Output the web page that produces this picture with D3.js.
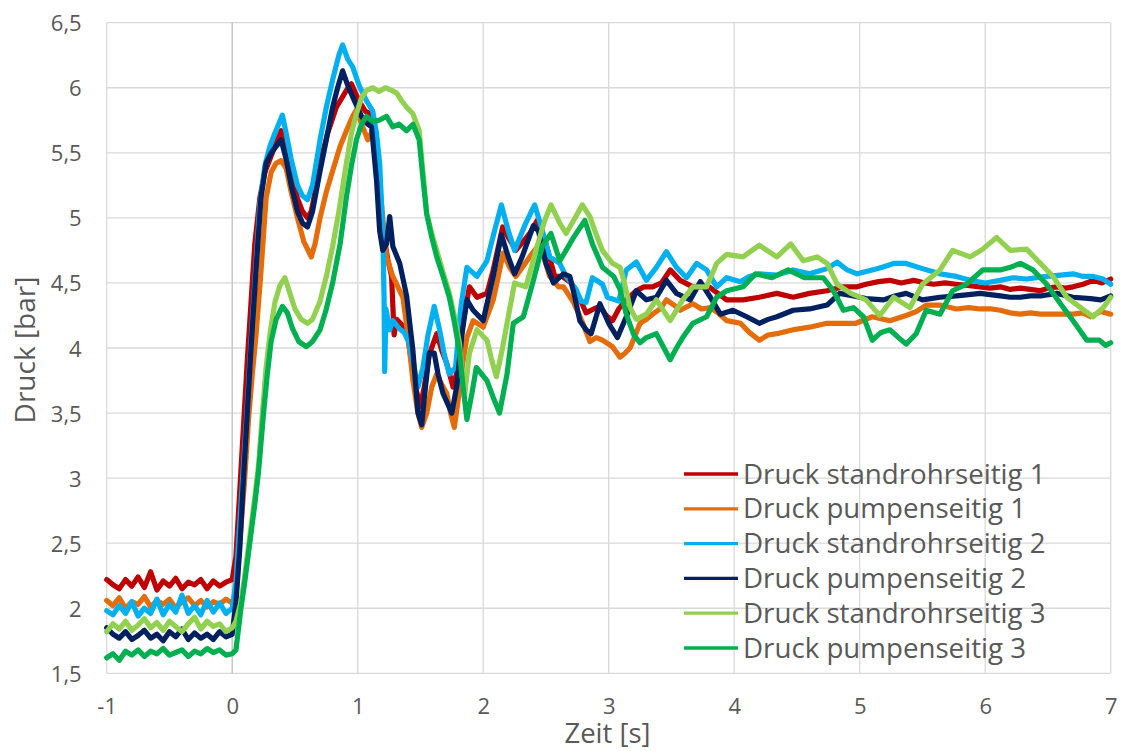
<!DOCTYPE html>
<html>
<head>
<meta charset="utf-8">
<script src="https://cdn.jsdelivr.net/npm/d3@7"></script>
<style>
  html, body { margin: 0; padding: 0; background: #ffffff; }
  svg { display: block; }
  text { font-family: "Open Sans", "Noto Sans", sans-serif; fill: #595959; }
</style>
</head>
<body>
<svg id="chart" width="1124" height="751"></svg>
<script>
// ---------------- DATA ----------------
const seriesNames = [
  "Druck standrohrseitig 1",
  "Druck pumpenseitig 1",
  "Druck standrohrseitig 2",
  "Druck pumpenseitig 2",
  "Druck standrohrseitig 3",
  "Druck pumpenseitig 3"
];
const seriesColors = ["#C00000", "#E46C0A", "#00B0F0", "#002060", "#92D050", "#00B050"];

const xTicks = [-1, 0, 1, 2, 3, 4, 5, 6, 7];
const yTicks = [1.5, 2, 2.5, 3, 3.5, 4, 4.5, 5, 5.5, 6, 6.5];

// [Zeit s, Druck bar]
const standrohr1 = [
  [-1,2.22],[-0.95,2.18],[-0.9,2.15],[-0.85,2.22],[-0.8,2.17],[-0.75,2.24],[-0.7,2.16],[-0.65,2.28],[-0.6,2.14],[-0.55,2.21],
  [-0.5,2.17],[-0.45,2.23],[-0.4,2.15],[-0.35,2.2],[-0.3,2.18],[-0.25,2.22],[-0.2,2.15],[-0.15,2.21],[-0.1,2.17],[-0.05,2.2],[0,2.22],
  [0.03,2.4],[0.06,2.9],[0.09,3.4],[0.12,3.9],[0.15,4.35],[0.18,4.8],[0.22,5.15],[0.26,5.35],[0.3,5.45],[0.34,5.55],[0.39,5.67],
  [0.43,5.55],[0.47,5.35],[0.52,5.15],[0.56,5.05],[0.6,5.0],[0.63,5.05],[0.67,5.25],[0.7,5.42],[0.76,5.65],[0.83,5.85],[0.91,5.98],
  [0.95,6.03],[1.01,5.9],[1.06,5.82],[1.1,5.8],[1.15,5.54],[1.2,4.9],[1.24,4.68],[1.27,4.55],[1.29,4.1],[1.31,4.22],[1.35,4.18],
  [1.39,4.14],[1.42,3.95],[1.46,3.7],[1.5,3.55],[1.53,3.7],[1.57,3.95],[1.63,4.11],[1.67,3.98],[1.71,3.88],[1.76,3.7],[1.8,3.85],
  [1.84,4.2],[1.89,4.47],[1.95,4.39],[2.03,4.42],[2.08,4.6],[2.155,4.93],[2.2,4.85],[2.26,4.75],[2.32,4.82],[2.37,4.88],[2.43,4.98],
  [2.5,4.8],[2.57,4.55],[2.63,4.55],[2.7,4.5],[2.76,4.4],[2.82,4.27],[2.88,4.3],[2.93,4.32],[2.98,4.25],[3.03,4.21],[3.08,4.3],
  [3.14,4.37],[3.22,4.44],[3.28,4.47],[3.35,4.47],[3.42,4.5],[3.49,4.6],[3.57,4.52],[3.67,4.47],[3.8,4.47],[3.87,4.42],[3.94,4.37],
  [4.07,4.37],[4.2,4.39],[4.34,4.42],[4.47,4.39],[4.6,4.42],[4.74,4.44],[4.87,4.47],[4.98,4.47],[5.05,4.49],[5.15,4.51],[5.24,4.52],
  [5.33,4.5],[5.43,4.52],[5.52,4.5],[5.59,4.49],[5.68,4.5],[5.77,4.49],[5.86,4.48],[5.96,4.47],[6.04,4.46],[6.12,4.47],[6.2,4.45],
  [6.28,4.46],[6.36,4.45],[6.44,4.44],[6.5,4.46],[6.57,4.47],[6.64,4.46],[6.7,4.47],[6.78,4.49],[6.86,4.52],[6.93,4.5],[7.0,4.53]
];
const pumpen1 = [
  [-1,2.06],[-0.95,2.02],[-0.9,2.08],[-0.85,2.0],[-0.8,2.05],[-0.75,2.03],[-0.7,2.09],[-0.65,2.01],[-0.6,2.06],[-0.55,2.03],
  [-0.5,2.07],[-0.45,2.0],[-0.4,2.05],[-0.35,2.08],[-0.3,2.02],[-0.25,2.06],[-0.2,2.01],[-0.15,2.05],[-0.1,2.03],[-0.05,2.07],[0,2.04],
  [0.03,2.1],[0.06,2.5],[0.1,3.0],[0.13,3.45],[0.16,3.8],[0.19,4.1],[0.23,4.6],[0.27,5.15],[0.31,5.35],[0.35,5.42],[0.39,5.44],
  [0.43,5.38],[0.47,5.2],[0.52,5.0],[0.57,4.82],[0.63,4.7],[0.66,4.8],[0.7,5.0],[0.75,5.2],[0.8,5.36],[0.86,5.55],[0.91,5.67],
  [0.96,5.78],[0.99,5.83],[1.04,5.7],[1.08,5.6],[1.12,5.67],[1.15,5.5],[1.18,5.2],[1.23,4.7],[1.28,4.55],[1.36,4.39],[1.4,4.1],
  [1.44,3.75],[1.48,3.5],[1.51,3.39],[1.55,3.5],[1.59,3.7],[1.63,3.8],[1.67,3.72],[1.71,3.65],[1.74,3.5],[1.77,3.39],[1.8,3.6],
  [1.84,3.9],[1.87,4.08],[1.92,4.21],[2.0,4.16],[2.08,4.37],[2.16,4.73],[2.21,4.62],[2.26,4.55],[2.32,4.63],[2.37,4.7],[2.45,4.8],
  [2.53,4.55],[2.6,4.47],[2.64,4.47],[2.72,4.35],[2.79,4.2],[2.85,4.05],[2.9,4.08],[2.95,4.06],[3.03,4.01],[3.09,3.93],[3.13,3.96],
  [3.17,4.0],[3.25,4.19],[3.3,4.22],[3.35,4.26],[3.41,4.3],[3.46,4.37],[3.52,4.33],[3.57,4.29],[3.67,4.34],[3.74,4.3],[3.81,4.31],
  [3.87,4.27],[3.94,4.21],[4.05,4.19],[4.12,4.12],[4.2,4.06],[4.27,4.1],[4.34,4.11],[4.47,4.14],[4.6,4.16],[4.74,4.19],[4.84,4.19],
  [4.97,4.19],[5.1,4.24],[5.24,4.21],[5.37,4.25],[5.45,4.28],[5.53,4.33],[5.64,4.33],[5.77,4.3],[5.87,4.31],[5.96,4.3],[6.05,4.3],
  [6.12,4.29],[6.2,4.27],[6.28,4.26],[6.36,4.27],[6.44,4.26],[6.57,4.26],[6.7,4.26],[6.78,4.27],[6.84,4.24],[6.92,4.28],[7.0,4.26]
];
const standrohr2 = [
  [-1,1.98],[-0.95,1.95],[-0.9,2.02],[-0.85,1.96],[-0.8,2.05],[-0.75,1.94],[-0.7,2.0],[-0.65,1.96],[-0.6,2.07],[-0.55,1.95],
  [-0.5,2.03],[-0.45,1.97],[-0.4,2.1],[-0.35,1.96],[-0.3,2.02],[-0.25,1.95],[-0.2,2.06],[-0.15,1.97],[-0.1,2.04],[-0.05,1.96],[0,2.0],
  [0.03,2.2],[0.06,2.65],[0.09,3.1],[0.12,3.55],[0.15,4.05],[0.18,4.5],[0.22,5.1],[0.26,5.4],[0.3,5.55],[0.34,5.65],[0.37,5.72],
  [0.4,5.79],[0.43,5.65],[0.47,5.45],[0.52,5.25],[0.56,5.17],[0.6,5.14],[0.64,5.25],[0.7,5.6],[0.75,5.85],[0.8,6.06],[0.85,6.25],
  [0.88,6.33],[0.92,6.22],[0.96,6.16],[1.01,6.02],[1.07,5.9],[1.12,5.82],[1.15,5.65],[1.175,5.42],[1.2,4.9],[1.21,4.4],[1.215,3.82],
  [1.225,4.3],[1.255,4.14],[1.28,4.21],[1.33,4.15],[1.37,4.12],[1.41,4.04],[1.45,3.85],[1.48,3.7],[1.52,3.85],[1.56,4.1],[1.61,4.32],
  [1.65,4.15],[1.69,3.95],[1.73,3.8],[1.78,3.85],[1.82,4.3],[1.87,4.62],[1.95,4.55],[2.03,4.67],[2.09,4.9],[2.145,5.1],[2.2,4.9],
  [2.25,4.75],[2.33,4.94],[2.41,5.1],[2.46,4.94],[2.53,4.7],[2.61,4.65],[2.66,4.55],[2.74,4.45],[2.78,4.36],[2.82,4.35],[2.87,4.54],
  [2.95,4.49],[2.99,4.39],[3.08,4.36],[3.14,4.6],[3.22,4.66],[3.3,4.52],[3.38,4.62],[3.46,4.74],[3.54,4.62],[3.62,4.54],[3.7,4.65],
  [3.78,4.6],[3.86,4.47],[3.94,4.54],[4.05,4.51],[4.12,4.55],[4.2,4.57],[4.34,4.56],[4.47,4.6],[4.6,4.57],[4.74,4.61],[4.82,4.66],
  [4.9,4.6],[4.98,4.57],[5.1,4.6],[5.18,4.62],[5.27,4.65],[5.37,4.65],[5.5,4.61],[5.64,4.57],[5.77,4.55],[5.88,4.52],[6.0,4.5],
  [6.12,4.52],[6.22,4.54],[6.33,4.53],[6.49,4.55],[6.6,4.56],[6.7,4.57],[6.78,4.55],[6.86,4.55],[6.94,4.53],[7.0,4.49]
];
const pumpen2 = [
  [-1,1.85],[-0.95,1.8],[-0.9,1.77],[-0.85,1.82],[-0.8,1.76],[-0.75,1.79],[-0.7,1.83],[-0.65,1.77],[-0.6,1.8],[-0.55,1.75],
  [-0.5,1.82],[-0.45,1.78],[-0.4,1.84],[-0.35,1.76],[-0.3,1.81],[-0.25,1.77],[-0.2,1.8],[-0.15,1.76],[-0.1,1.82],[-0.05,1.78],[0,1.8],
  [0.03,2.05],[0.06,2.45],[0.09,3.0],[0.12,3.5],[0.15,4.0],[0.19,4.6],[0.23,5.16],[0.27,5.42],[0.31,5.5],[0.35,5.55],[0.39,5.6],
  [0.43,5.45],[0.47,5.25],[0.52,5.05],[0.56,4.96],[0.6,4.93],[0.64,5.05],[0.7,5.36],[0.75,5.6],[0.8,5.85],[0.84,6.0],[0.88,6.13],
  [0.92,6.02],[0.96,5.93],[1.03,5.78],[1.08,5.72],[1.11,5.7],[1.15,5.29],[1.175,4.9],[1.2,4.75],[1.23,4.8],[1.255,5.01],[1.28,4.78],
  [1.335,4.65],[1.39,4.4],[1.44,3.98],[1.48,3.5],[1.51,3.41],[1.54,3.7],[1.57,3.96],[1.61,3.96],[1.64,3.8],[1.68,3.65],[1.75,3.5],
  [1.79,3.71],[1.83,4.1],[1.87,4.37],[1.92,4.29],[2.0,4.21],[2.08,4.55],[2.145,4.87],[2.2,4.7],[2.25,4.57],[2.31,4.7],[2.4,4.94],
  [2.44,4.9],[2.5,4.65],[2.56,4.5],[2.64,4.57],[2.69,4.55],[2.73,4.39],[2.77,4.21],[2.82,4.14],[2.86,4.11],[2.93,4.34],[3.0,4.19],
  [3.07,4.08],[3.14,4.24],[3.22,4.44],[3.3,4.37],[3.38,4.39],[3.46,4.52],[3.54,4.42],[3.65,4.37],[3.73,4.51],[3.81,4.39],[3.89,4.26],
  [3.99,4.29],[4.1,4.24],[4.2,4.19],[4.27,4.22],[4.34,4.24],[4.47,4.29],[4.6,4.3],[4.74,4.33],[4.84,4.42],[4.95,4.4],[5.05,4.38],
  [5.19,4.37],[5.28,4.4],[5.37,4.42],[5.5,4.37],[5.64,4.39],[5.77,4.4],[5.87,4.41],[5.96,4.42],[6.04,4.41],[6.12,4.4],[6.2,4.39],
  [6.28,4.39],[6.36,4.4],[6.44,4.4],[6.57,4.42],[6.7,4.39],[6.84,4.38],[6.92,4.37],[7.0,4.4]
];
const standrohr3 = [
  [-1,1.82],[-0.95,1.88],[-0.9,1.84],[-0.85,1.9],[-0.8,1.83],[-0.75,1.87],[-0.7,1.92],[-0.65,1.85],[-0.6,1.89],[-0.55,1.83],
  [-0.5,1.9],[-0.45,1.86],[-0.4,1.82],[-0.35,1.88],[-0.3,1.93],[-0.25,1.84],[-0.2,1.9],[-0.15,1.86],[-0.1,1.88],[-0.05,1.82],[0,1.85],
  [0.03,1.9],[0.07,2.05],[0.1,2.25],[0.14,2.55],[0.18,2.85],[0.21,3.1],[0.245,3.55],[0.27,3.85],[0.3,4.1],[0.34,4.35],[0.38,4.48],
  [0.42,4.54],[0.45,4.45],[0.5,4.3],[0.55,4.22],[0.6,4.19],[0.64,4.22],[0.7,4.36],[0.75,4.55],[0.8,4.78],[0.85,5.05],[0.91,5.42],
  [0.95,5.65],[0.99,5.8],[1.03,5.92],[1.07,5.98],[1.12,6.0],[1.17,5.97],[1.22,6.0],[1.27,5.98],[1.31,5.96],[1.35,5.9],[1.39,5.85],
  [1.44,5.8],[1.49,5.67],[1.52,5.35],[1.55,5.03],[1.59,4.88],[1.63,4.75],[1.68,4.58],[1.73,4.42],[1.77,4.25],[1.81,4.04],[1.85,3.62],
  [1.89,3.96],[1.95,4.14],[2.03,4.06],[2.07,3.9],[2.105,3.78],[2.15,3.98],[2.19,4.19],[2.25,4.5],[2.34,4.47],[2.42,4.75],[2.49,4.98],
  [2.54,5.1],[2.61,4.96],[2.66,4.88],[2.72,4.98],[2.79,5.1],[2.85,5.01],[2.89,4.9],[2.95,4.75],[3.03,4.65],[3.09,4.62],[3.12,4.52],
  [3.17,4.31],[3.22,4.22],[3.3,4.26],[3.38,4.37],[3.49,4.21],[3.59,4.37],[3.67,4.47],[3.78,4.47],[3.86,4.65],[3.94,4.72],[4.07,4.7],
  [4.2,4.79],[4.34,4.7],[4.45,4.8],[4.55,4.67],[4.66,4.7],[4.74,4.65],[4.82,4.49],[4.93,4.42],[5.05,4.37],[5.16,4.25],[5.27,4.39],
  [5.4,4.31],[5.5,4.49],[5.64,4.6],[5.74,4.75],[5.88,4.7],[5.98,4.76],[6.09,4.85],[6.2,4.75],[6.33,4.76],[6.44,4.65],[6.54,4.55],
  [6.65,4.39],[6.76,4.31],[6.86,4.24],[6.94,4.31],[7.0,4.39]
];
const pumpen3 = [
  [-1,1.62],[-0.95,1.65],[-0.9,1.6],[-0.85,1.67],[-0.8,1.64],[-0.75,1.68],[-0.7,1.63],[-0.65,1.67],[-0.6,1.65],[-0.55,1.69],
  [-0.5,1.64],[-0.45,1.66],[-0.4,1.68],[-0.35,1.63],[-0.3,1.67],[-0.25,1.65],[-0.2,1.69],[-0.15,1.66],[-0.1,1.68],[-0.05,1.64],[0,1.65],
  [0.03,1.68],[0.07,2.0],[0.1,2.2],[0.14,2.5],[0.18,2.8],[0.21,3.05],[0.25,3.5],[0.28,3.8],[0.31,4.05],[0.35,4.22],[0.4,4.32],
  [0.44,4.27],[0.48,4.15],[0.53,4.05],[0.59,4.01],[0.64,4.05],[0.7,4.14],[0.75,4.3],[0.8,4.5],[0.86,4.8],[0.91,5.16],[0.95,5.4],
  [0.99,5.6],[1.03,5.72],[1.07,5.78],[1.12,5.74],[1.17,5.75],[1.23,5.78],[1.28,5.7],[1.33,5.72],[1.39,5.67],[1.44,5.72],[1.49,5.6],
  [1.52,5.3],[1.55,5.03],[1.59,4.85],[1.63,4.7],[1.68,4.55],[1.73,4.39],[1.77,4.2],[1.81,3.98],[1.84,3.7],[1.87,3.45],[1.91,3.65],
  [1.945,3.85],[2.03,3.75],[2.08,3.62],[2.13,3.5],[2.16,3.65],[2.19,3.8],[2.24,4.19],[2.32,4.24],[2.4,4.52],[2.47,4.78],[2.54,4.88],
  [2.61,4.67],[2.66,4.75],[2.72,4.85],[2.81,4.98],[2.87,4.8],[2.95,4.62],[3.04,4.55],[3.09,4.45],[3.14,4.26],[3.2,4.1],[3.25,4.04],
  [3.3,4.08],[3.38,4.11],[3.44,4.0],[3.49,3.91],[3.54,4.0],[3.59,4.08],[3.67,4.19],[3.78,4.24],[3.86,4.39],[3.94,4.44],[4.07,4.47],
  [4.17,4.57],[4.3,4.54],[4.43,4.6],[4.56,4.54],[4.71,4.54],[4.79,4.44],[4.87,4.29],[4.95,4.31],[5.03,4.24],[5.1,4.06],[5.17,4.12],
  [5.24,4.14],[5.31,4.08],[5.37,4.03],[5.45,4.11],[5.53,4.29],[5.64,4.26],[5.74,4.44],[5.85,4.49],[5.98,4.6],[6.12,4.6],[6.2,4.62],
  [6.28,4.65],[6.38,4.6],[6.49,4.49],[6.6,4.34],[6.7,4.21],[6.81,4.06],[6.91,4.06],[6.96,4.02],[7.0,4.04]
];
const seriesData = [standrohr1, pumpen1, standrohr2, pumpen2, standrohr3, pumpen3];

// ---------------- CHART ----------------
const svg = d3.select("#chart");
const plot = { left: 106.7, right: 1110.7, top: 22.7, bottom: 673.3 };

const x = d3.scaleLinear().domain([-1, 7]).range([plot.left, plot.right]);
const y = d3.scaleLinear().domain([1.5, 6.5]).range([plot.bottom, plot.top]);
const fmt = d => String(d).replace(".", ",");

// gridlines
const grid = svg.append("g");
grid.selectAll("line.h").data(yTicks).join("line")
  .attr("x1", plot.left).attr("x2", plot.right)
  .attr("y1", d => y(d)).attr("y2", d => y(d))
  .attr("stroke", "#D9D9D9").attr("stroke-width", 1.3);
grid.selectAll("line.v").data(xTicks).join("line")
  .attr("y1", plot.top).attr("y2", plot.bottom)
  .attr("x1", d => x(d)).attr("x2", d => x(d))
  .attr("stroke", d => d === 0 ? "#BFBFBF" : "#D9D9D9").attr("stroke-width", 1.3);

// axes via d3 axis generators (labels only)
const yAxis = d3.axisLeft(y).tickValues(yTicks).tickFormat(fmt).tickSize(0).tickPadding(0);
const gy = svg.append("g").attr("transform", `translate(81.7,0)`).call(yAxis);
gy.select(".domain").remove();
gy.selectAll("text").attr("font-size", 22).attr("fill", "#595959")
  .attr("font-family", "Open Sans").attr("dy", null).attr("y", 8).attr("x", 0);

const xAxis = d3.axisBottom(x).tickValues(xTicks).tickFormat(fmt).tickSize(0).tickPadding(0);
const gx = svg.append("g").attr("transform", `translate(0,714)`).call(xAxis);
gx.select(".domain").remove();
gx.selectAll("text").attr("font-size", 22).attr("fill", "#595959")
  .attr("font-family", "Open Sans").attr("dy", null).attr("y", 0);

// axis titles
svg.append("text").attr("x", 607.5).attr("y", 743).attr("text-anchor", "middle")
  .attr("font-size", 27.5).text("Zeit [s]");
svg.append("text").attr("transform", "translate(35,350) rotate(-90)")
  .attr("text-anchor", "middle").attr("font-size", 28).text("Druck [bar]");

// series lines
const line = d3.line().x(d => x(d[0])).y(d => y(d[1]));
svg.append("g").selectAll("path").data(seriesData).join("path")
  .attr("d", d => line(d))
  .attr("fill", "none")
  .attr("stroke", (d, i) => seriesColors[i])
  .attr("stroke-width", 5.2)
  .attr("stroke-linejoin", "round")
  .attr("stroke-linecap", "round");

// legend
const legend = svg.append("g").attr("transform", "translate(684,474)");
const rows = legend.selectAll("g").data(seriesNames).join("g")
  .attr("transform", (d, i) => `translate(0,${i * 34.8})`);
rows.append("line").attr("x1", 0).attr("x2", 54).attr("y1", 0).attr("y2", 0)
  .attr("stroke", (d, i) => seriesColors[i]).attr("stroke-width", 3.3);
rows.append("text").attr("x", 59).attr("y", 9.5).attr("font-size", 27.7).text(d => d);
</script>
</body>
</html>
